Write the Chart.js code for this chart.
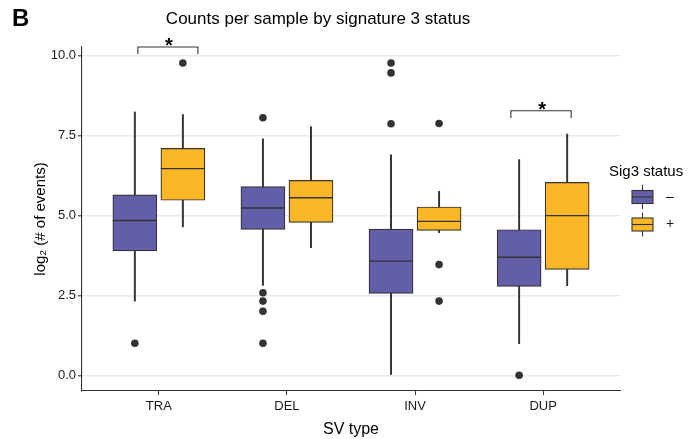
<!DOCTYPE html>
<html>
<head>
<meta charset="utf-8">
<script src="https://cdn.jsdelivr.net/npm/chart.js@4.4.1/dist/chart.umd.min.js"></script>
<style>
  html, body { margin: 0; padding: 0; background: #fff; }
  canvas { display: block; }
</style>
</head>
<body>
<canvas id="chart" width="697" height="439"></canvas>
<script>
'use strict';

// ── Data ────────────────────────────────────────────────────────────────────
const categories = ['TRA', 'DEL', 'INV', 'DUP'];
const yTicks     = [0, 2.5, 5, 7.5, 10];

// Sig3 "–"
const negLow      = [2.32, 2.81, 0.00, 0.99];
const negQ1       = [3.89, 4.56, 2.56, 2.78];
const negMedian   = [4.84, 5.23, 3.57, 3.69];
const negQ3       = [5.64, 5.90, 4.57, 4.55];
const negHigh     = [8.23, 7.39, 6.89, 6.74];
const negOutliers = [[1.0], [8.05, 2.58, 2.32, 2.0, 1.0], [9.76, 9.45, 7.86], [0.0]];

// Sig3 "+"
const posLow      = [4.64, 3.99, 4.46, 2.80];
const posQ1       = [5.47, 4.78, 4.53, 3.31];
const posMedian   = [6.46, 5.55, 4.81, 4.99];
const posQ3       = [7.09, 6.09, 5.26, 6.03];
const posHigh     = [8.15, 7.77, 5.75, 7.54];
const posOutliers = [[9.76], [], [7.87, 3.46, 2.32], []];

// significance brackets
const sigLeft  = [0.836, 3.748];
const sigRight = [1.305, 4.219];
const sigTop   = [10.26, 8.27];
const sigTip   = [10.04, 8.04];
const sigLabel = ['*', '*'];

// ── Style ────────────────────────────────────────────────────────────────────
const FONT     = "'Liberation Sans', Arial, Helvetica, sans-serif";
const NEG_COL  = '#635EA8';
const POS_COL  = '#FBB726';
const INK      = '#333333';
const TEXT     = '#1a1a1a';
const DODGE    = 0.1875;   // half of dodge width in category units

Chart.defaults.font.family = FONT;
Chart.defaults.color = TEXT;

// ── Build datasets ───────────────────────────────────────────────────────────
function groupDatasets(low, q1, med, q3, high, outliers, shift, color) {
  const xs = categories.map((c, i) => i + 1 + shift);
  return [
    {
      type: 'bar', order: 4, grouped: false,
      data: xs.map((x, i) => ({ x, y: [low[i], high[i]] })),
      backgroundColor: INK, borderWidth: 0, barThickness: 1.3,
    },
    {
      type: 'bar', order: 3, grouped: false,
      data: xs.map((x, i) => ({ x, y: [q1[i], q3[i]] })),
      backgroundColor: color, borderColor: INK, borderWidth: 1.2,
      borderSkipped: false, barThickness: 44,
    },
    {
      type: 'scatter', order: 2,
      data: xs.map((x, i) => ({ x, y: med[i] })),
      pointStyle: 'line', pointRadius: 22, borderColor: INK, borderWidth: 1.4,
    },
    {
      type: 'scatter', order: 1,
      data: xs.flatMap((x, i) => outliers[i].map(v => ({ x, y: v }))),
      pointRadius: 3.8, backgroundColor: INK, borderWidth: 0,
    },
  ];
}

const bracketSets = sigLeft.map((x1, i) => ({
  type: 'line', order: 0, clip: false,
  data: [
    { x: x1, y: sigTip[i] }, { x: x1, y: sigTop[i] },
    { x: sigRight[i], y: sigTop[i] }, { x: sigRight[i], y: sigTip[i] },
  ],
  borderColor: INK, borderWidth: 1.1, pointRadius: 0, fill: false, tension: 0,
}));

// ── Decorations: panel letter, title, stars, legend ─────────────────────────
const decorations = {
  id: 'decorations',
  afterDraw(chart) {
    const { ctx, scales: { x, y } } = chart;
    ctx.save();
    ctx.fillStyle = '#000';
    ctx.textBaseline = 'alphabetic';

    ctx.font = `bold 24px ${FONT}`;
    ctx.textAlign = 'left';
    ctx.fillText('B', 12, 26);

    ctx.font = `17px ${FONT}`;
    ctx.textAlign = 'center';
    ctx.fillText('Counts per sample by signature 3 status', 318, 24);

    ctx.font = `bold 20px ${FONT}`;
    sigLabel.forEach((s, i) => {
      const cx = x.getPixelForValue((sigLeft[i] + sigRight[i]) / 2) + 1;
      ctx.fillText(s, cx, y.getPixelForValue(sigTop[i]) + 5);
    });

    // legend
    ctx.font = `15px ${FONT}`;
    ctx.textAlign = 'left';
    ctx.fillText('Sig3 status', 609, 176);
    const keys = [['\u2013', NEG_COL, 197], ['+', POS_COL, 224.5]];
    keys.forEach(([lab, col, cy]) => {
      ctx.strokeStyle = INK;
      ctx.lineWidth = 1.1;
      ctx.beginPath();
      ctx.moveTo(642.5, cy - 12); ctx.lineTo(642.5, cy + 12);
      ctx.stroke();
      ctx.fillStyle = col;
      ctx.fillRect(632, cy - 6.5, 21, 13);
      ctx.strokeRect(632, cy - 6.5, 21, 13);
      ctx.beginPath();
      ctx.moveTo(632, cy); ctx.lineTo(653, cy);
      ctx.stroke();
      ctx.fillStyle = TEXT;
      ctx.font = `14px ${FONT}`;
      ctx.textBaseline = 'middle';
      ctx.fillText(lab, 666, cy);
    });
    ctx.restore();
  },
};

// ── Chart ────────────────────────────────────────────────────────────────────
new Chart(document.getElementById('chart'), {
  type: 'bar',
  data: {
    datasets: [
      ...groupDatasets(negLow, negQ1, negMedian, negQ3, negHigh, negOutliers, -DODGE, NEG_COL),
      ...groupDatasets(posLow, posQ1, posMedian, posQ3, posHigh, posOutliers, DODGE, POS_COL),
      ...bracketSets,
    ],
  },
  options: {
    responsive: false,
    animation: false,
    devicePixelRatio: 1,
    layout: { padding: { left: 0, right: 77, top: 47, bottom: 0 } },
    plugins: { legend: { display: false }, tooltip: { enabled: false }, title: { display: false } },
    scales: {
      x: {
        type: 'linear', min: 0.4, max: 4.6, offset: false,
        afterBuildTicks: s => { s.ticks = categories.map((c, i) => ({ value: i + 1 })); },
        afterFit: s => { s.height = 48; },
        ticks: { callback: v => categories[v - 1], color: TEXT, font: { size: 13 }, padding: 4, maxRotation: 0, autoSkip: false },
        grid: { drawOnChartArea: false, offset: false, tickLength: 4, tickColor: INK, tickWidth: 1.1 },
        border: { color: INK, width: 1.1 },
        title: { display: true, text: 'SV type', font: { size: 16 }, color: '#000', padding: { top: 3, bottom: 0 } },
      },
      y: {
        type: 'linear', min: -0.49, max: 10.26,
        afterBuildTicks: s => { s.ticks = yTicks.map(v => ({ value: v })); },
        afterFit: s => { s.width = 82; },
        ticks: { callback: v => v.toFixed(1), color: TEXT, font: { size: 13 }, padding: 2 },
        grid: { color: '#EBEBEB', lineWidth: 1.6, tickLength: 4, tickColor: INK, tickWidth: 1.1 },
        border: { color: INK, width: 1.1 },
        title: { display: true, text: 'log\u2082 (# of events)', font: { size: 15 }, color: '#000', padding: { top: 32, bottom: 0 } },
      },
    },
  },
  plugins: [decorations],
});
</script>
</body>
</html>
